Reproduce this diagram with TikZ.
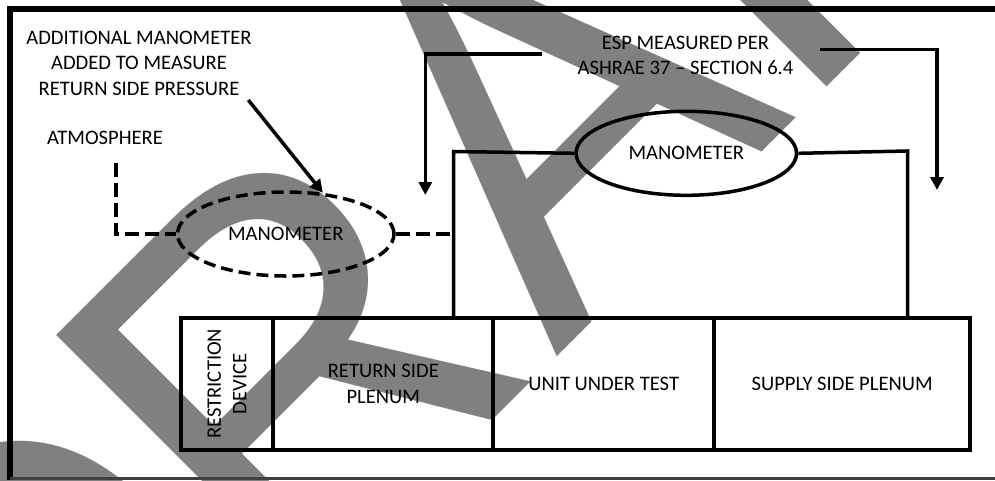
\documentclass[tikz,border=0pt]{standalone}
\usepackage{fontspec}
\setmainfont{Carlito}
\newfontfamily\wmfont[Kerning=Off]{Liberation Sans}
\usetikzlibrary{shapes.geometric,arrows.meta}
\tikzset{
  lbl/.style={font=\fontsize{20.6}{25.5}\selectfont, align=center, inner sep=0pt, text=black},
  cell/.style={draw, line width=4, rectangle, minimum height=131.5, inner sep=0pt,
    font=\fontsize{20.6}{25.5}\selectfont, align=center},
  meter/.style={ellipse, draw, line width=3.5, inner sep=0pt, font=\fontsize{20.6}{25.5}\selectfont},
  wire/.style={line width=3.5, line join=miter},
  dwire/.style={line width=3.5, dash pattern=on 14pt off 6pt},
  arr/.style={line width=3.5, line join=miter, -{Triangle[width=13pt,length=13pt]}},
  wm/.style={text=black!50, inner sep=0pt, font=\wmfont\fontsize{510}{510}\selectfont},
}
\begin{document}
\begin{tikzpicture}[x=1pt,y=-1pt]
\useasboundingbox (0,0) rectangle (995,480);
\fill[white] (0,0) rectangle (995,480);
% watermark
\begin{scope}
\clip (0,0) rectangle (995,480);
\node[wm, anchor=base west, rotate=45, yscale=1.05] (wm) at (35.6,878) {D\kern-12pt R\kern12pt AFT};
\end{scope}
% frame
\draw[line width=6, line join=miter] (10,480) -- (10,8.5) -- (995,8.5);
\draw[line width=2.5, black!75] (10,478.5) -- (995,478.5);
% cells
\node[cell, rotate=90, minimum width=131.5, minimum height=92.8] (rd) at (226.9,383.75) {RESTRICTION\\DEVICE};
\node[cell, minimum width=220] (rp) at (383.3,383.75) {RETURN SIDE\\PLENUM};
\node[cell, minimum width=220.7] (ut) at (603.65,383.75) {UNIT UNDER TEST};
\node[cell, minimum width=256.3] (sp) at (842.15,383.75) {SUPPLY SIDE PLENUM};
% manometers
\node[meter, minimum width=220.5, minimum height=84] (m2) at (686.3,153.3) {MANOMETER};
\node[meter, dash pattern=on 12pt off 6pt, minimum width=216.5, minimum height=84] (m1) at (285.75,234) {MANOMETER};
% labels
\node[lbl] (add) at (139,63.3) {ADDITIONAL MANOMETER\\ADDED TO MEASURE\\RETURN SIDE PRESSURE};
\node[lbl] (atm) at (105,137.5) {ATMOSPHERE};
\node[lbl, font=\fontsize{20.6}{24.5}\selectfont] (esp) at (685.5,55.3) {ESP MEASURED PER\\ASHRAE 37 – SECTION 6.4};
% solid connectors
\coordinate (j1) at (453.5,151.5);
\coordinate (j2) at (907.7,151);
\draw[wire] (rp.north -| j1) -- (j1) -- (m2.west);
\draw[wire] (m2.east) -- (j2) -- (sp.north -| j2);
% dashed connectors
\coordinate (atm0) at (115.8,163);
\coordinate (d1) at (115.8,234);
\draw[dwire] (atm0) -- (d1) -- (m1.west);
\draw[dwire] (m1.east) -- (j1 |- m1.east);
% arrows
\coordinate (a0) at (248.3,100);
\draw[arr] (a0) -- (m1.48.7);
\coordinate (l0) at (541.7,53.8);
\coordinate (lc) at (425.3,53.8);
\coordinate (lt) at (425.3,195);
\draw[arr] (l0) -- (lc) -- (lt);
\coordinate (r0) at (820,49.5);
\coordinate (rc) at (937,49.5);
\coordinate (rt) at (937,190);
\draw[arr] (r0) -- (rc) -- (rt);
\end{tikzpicture}
\end{document}
